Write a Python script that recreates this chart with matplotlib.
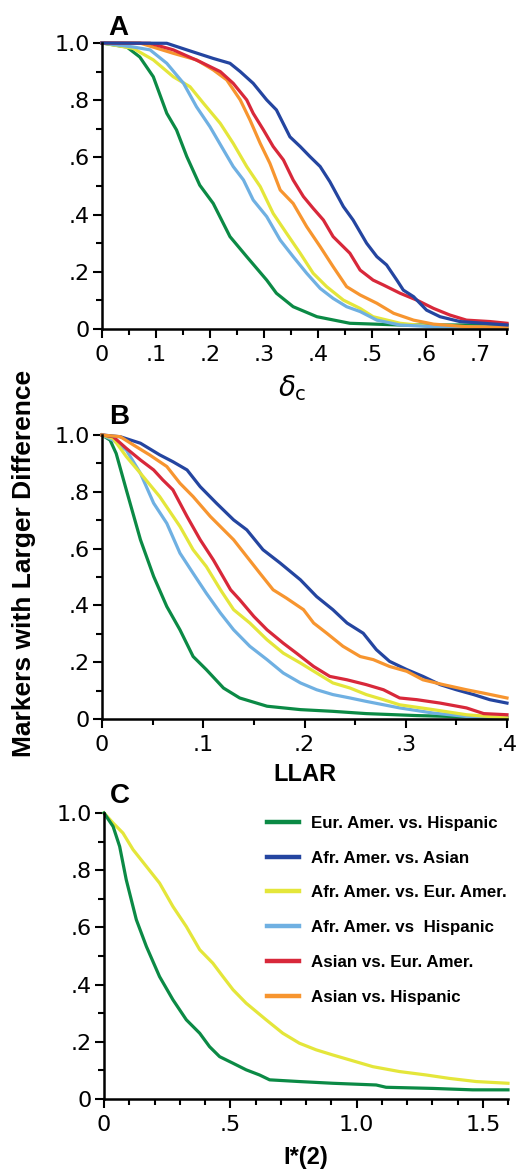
import numpy as np
import matplotlib
matplotlib.use("Agg")
import matplotlib.pyplot as plt
from matplotlib.lines import Line2D

# ---- données ----
series_labels = ["Eur. Amer. vs. Hispanic", "Afr. Amer. vs. Asian", "Afr. Amer. vs. Eur. Amer.",
                 "Afr. Amer. vs  Hispanic", "Asian vs. Eur. Amer.", "Asian vs. Hispanic"]
series_colors = ["#0b8a45", "#2445a0", "#e4e63a", "#6fb0e2", "#d8283a", "#f7952f"]

# panneau A (delta_c)
a_green_x = [0, 0.046, 0.070, 0.095, 0.120, 0.138, 0.157, 0.181, 0.206, 0.237, 0.268, 0.305, 0.323, 0.354, 0.398, 0.459, 0.552, 0.75]
a_green_y = [1.0, 0.986, 0.951, 0.882, 0.754, 0.696, 0.603, 0.503, 0.439, 0.323, 0.253, 0.171, 0.125, 0.078, 0.043, 0.020, 0.014, 0.014]
a_blue_x = [0, 0.12, 0.157, 0.206, 0.237, 0.256, 0.280, 0.305, 0.323, 0.348, 0.367, 0.385, 0.404, 0.422, 0.447, 0.465, 0.490,
            0.509, 0.527, 0.546, 0.558, 0.577, 0.601, 0.626, 0.663, 0.706, 0.75]
a_blue_y = [1.0, 0.999, 0.976, 0.946, 0.929, 0.900, 0.859, 0.801, 0.766, 0.672, 0.638, 0.603, 0.568, 0.515, 0.428, 0.381, 0.300,
            0.253, 0.224, 0.171, 0.136, 0.113, 0.066, 0.043, 0.026, 0.020, 0.014]
a_yellow_x = [0, 0.058, 0.095, 0.132, 0.163, 0.188, 0.219, 0.243, 0.268, 0.293, 0.317, 0.342, 0.367, 0.391, 0.416, 0.447, 0.478,
              0.502, 0.552, 0.614, 0.75]
a_yellow_y = [1.0, 0.981, 0.941, 0.882, 0.847, 0.789, 0.719, 0.649, 0.568, 0.498, 0.404, 0.334, 0.265, 0.195, 0.148, 0.101, 0.072,
              0.043, 0.020, 0.008, 0.005]
a_ltblue_x = [0, 0.058, 0.089, 0.120, 0.151, 0.175, 0.200, 0.225, 0.243, 0.262, 0.280, 0.305, 0.330, 0.354, 0.379, 0.404, 0.428,
              0.453, 0.478, 0.509, 0.552, 0.614, 0.75]
a_ltblue_y = [1.0, 0.986, 0.976, 0.929, 0.859, 0.777, 0.707, 0.626, 0.568, 0.521, 0.451, 0.393, 0.311, 0.253, 0.195, 0.142, 0.107,
              0.078, 0.061, 0.031, 0.014, 0.008, 0.005]
a_red_x = [0, 0.089, 0.132, 0.181, 0.219, 0.243, 0.268, 0.280, 0.299, 0.317, 0.336, 0.354, 0.373, 0.391, 0.410, 0.428, 0.459,
           0.478, 0.502, 0.521, 0.552, 0.583, 0.614, 0.644, 0.675, 0.719, 0.75]
a_red_y = [1.0, 0.999, 0.976, 0.935, 0.900, 0.859, 0.801, 0.754, 0.696, 0.638, 0.591, 0.521, 0.463, 0.422, 0.381, 0.323, 0.265,
           0.206, 0.171, 0.154, 0.125, 0.101, 0.072, 0.049, 0.031, 0.026, 0.020]
a_orange_x = [0, 0.07, 0.132, 0.175, 0.206, 0.231, 0.256, 0.274, 0.293, 0.311, 0.330, 0.354, 0.379, 0.404, 0.428, 0.453, 0.478,
              0.509, 0.540, 0.577, 0.614, 0.675, 0.75]
a_orange_y = [1.0, 1.0, 0.964, 0.941, 0.906, 0.871, 0.801, 0.731, 0.649, 0.579, 0.486, 0.439, 0.358, 0.288, 0.218, 0.148, 0.119,
              0.090, 0.055, 0.031, 0.017, 0.008, 0.006]

# panneau B (LLAR)
b_green_x = [0, 0.008, 0.014, 0.024, 0.038, 0.051, 0.064, 0.077, 0.090, 0.103, 0.120, 0.136, 0.163, 0.196, 0.228, 0.261, 0.311, 0.4]
b_green_y = [1.0, 0.982, 0.935, 0.807, 0.631, 0.502, 0.396, 0.314, 0.220, 0.174, 0.109, 0.074, 0.045, 0.033, 0.027, 0.019, 0.012, 0.004]
b_blue_x = [0, 0.018, 0.038, 0.057, 0.070, 0.084, 0.097, 0.113, 0.130, 0.143, 0.159, 0.176, 0.196, 0.212, 0.228, 0.242, 0.258,
            0.271, 0.284, 0.301, 0.317, 0.334, 0.350, 0.367, 0.383, 0.4]
b_blue_y = [1.0, 0.994, 0.971, 0.930, 0.906, 0.877, 0.818, 0.760, 0.701, 0.666, 0.596, 0.549, 0.490, 0.431, 0.385, 0.338, 0.302,
            0.244, 0.203, 0.174, 0.150, 0.121, 0.103, 0.086, 0.068, 0.056]
b_yellow_x = [0, 0.011, 0.024, 0.038, 0.057, 0.077, 0.090, 0.103, 0.117, 0.130, 0.146, 0.163, 0.179, 0.196, 0.212, 0.228, 0.245,
              0.261, 0.278, 0.294, 0.327, 0.360, 0.4]
b_yellow_y = [1.0, 0.988, 0.924, 0.865, 0.783, 0.678, 0.596, 0.537, 0.455, 0.385, 0.338, 0.279, 0.232, 0.197, 0.162, 0.127, 0.109,
              0.086, 0.068, 0.050, 0.033, 0.015, 0.004]
b_ltblue_x = [0, 0.011, 0.024, 0.038, 0.051, 0.064, 0.077, 0.090, 0.103, 0.117, 0.130, 0.146, 0.163, 0.179, 0.196, 0.212, 0.228,
              0.245, 0.261, 0.294, 0.327, 0.360, 0.4]
b_ltblue_y = [1.0, 0.982, 0.947, 0.865, 0.760, 0.689, 0.584, 0.513, 0.443, 0.373, 0.314, 0.256, 0.209, 0.162, 0.127, 0.103, 0.086,
              0.074, 0.062, 0.039, 0.021, 0.009, 0.004]
b_red_x = [0, 0.011, 0.024, 0.038, 0.051, 0.060, 0.070, 0.084, 0.097, 0.110, 0.127, 0.136, 0.150, 0.163, 0.179, 0.192, 0.209,
           0.225, 0.242, 0.261, 0.278, 0.294, 0.311, 0.334, 0.360, 0.377, 0.4]
b_red_y = [1.0, 0.994, 0.953, 0.912, 0.877, 0.842, 0.807, 0.713, 0.631, 0.560, 0.455, 0.420, 0.361, 0.314, 0.267, 0.232, 0.185,
           0.150, 0.138, 0.121, 0.103, 0.074, 0.068, 0.056, 0.039, 0.019, 0.015]
b_orange_x = [0, 0.018, 0.031, 0.047, 0.064, 0.077, 0.090, 0.107, 0.130, 0.143, 0.156, 0.169, 0.182, 0.199, 0.209, 0.222, 0.238,
              0.255, 0.268, 0.284, 0.301, 0.317, 0.337, 0.360, 0.377, 0.4]
b_orange_y = [1.0, 0.994, 0.965, 0.930, 0.889, 0.830, 0.783, 0.713, 0.631, 0.572, 0.513, 0.455, 0.426, 0.385, 0.338, 0.302, 0.256,
              0.220, 0.209, 0.185, 0.168, 0.138, 0.121, 0.103, 0.091, 0.074]

# panneau C (I*(2))
c_green_x = [0, 0.036, 0.062, 0.088, 0.128, 0.168, 0.220, 0.273, 0.326, 0.379, 0.418, 0.458, 0.511, 0.563, 0.616, 0.656, 0.774,
             0.906, 1.078, 1.117, 1.302, 1.460, 1.6]
c_green_y = [1.0, 0.953, 0.883, 0.767, 0.627, 0.533, 0.428, 0.347, 0.277, 0.230, 0.183, 0.148, 0.125, 0.102, 0.084, 0.067, 0.061,
             0.055, 0.049, 0.041, 0.037, 0.032, 0.032]
c_yellow_x = [0, 0.036, 0.075, 0.115, 0.168, 0.220, 0.273, 0.326, 0.379, 0.431, 0.471, 0.511, 0.563, 0.642, 0.708, 0.774, 0.840,
              0.906, 0.972, 1.065, 1.170, 1.276, 1.368, 1.474, 1.6]
c_yellow_y = [1.0, 0.965, 0.930, 0.872, 0.813, 0.755, 0.673, 0.603, 0.522, 0.475, 0.428, 0.382, 0.335, 0.277, 0.230, 0.195, 0.172,
              0.154, 0.137, 0.113, 0.096, 0.084, 0.072, 0.061, 0.055]

y_ticks = [0, 0.2, 0.4, 0.6, 0.8, 1.0]
y_tick_labels = ["0", ".2", ".4", ".6", ".8", "1.0"]
a_xticks = [0, 0.1, 0.2, 0.3, 0.4, 0.5, 0.6, 0.7]
a_xtick_labels = ["0", ".1", ".2", ".3", ".4", ".5", ".6", ".7"]
b_xticks = [0, 0.1, 0.2, 0.3, 0.4]
b_xtick_labels = ["0", ".1", ".2", ".3", ".4"]
c_xticks = [0, 0.5, 1.0, 1.5]
c_xtick_labels = ["0", ".5", "1.0", "1.5"]

W, H = 525, 1169
fig = plt.figure(figsize=(W / 100, H / 100), dpi=100)


def axes_px(left, top, right, bottom):
    # position en pixels -> fraction de figure
    return fig.add_axes([left / W, 1 - bottom / H, (right - left) / W, (bottom - top) / H])


def style_axes(ax, xmax, xticks, xlabels, xminor):
    ax.set_xlim(0, xmax)
    ax.set_ylim(0, 1.0)
    for s in ["top", "right"]:
        ax.spines[s].set_visible(False)
    for s in ["left", "bottom"]:
        ax.spines[s].set_linewidth(1.8)
    ax.set_xticks(xticks)
    ax.set_xticklabels(xlabels)
    ax.set_xticks(np.arange(0, xmax + 1e-9, xminor), minor=True)
    ax.set_yticks(y_ticks)
    ax.set_yticklabels(y_tick_labels)
    ax.set_yticks(np.arange(0, 1.0001, 0.1), minor=True)
    ax.tick_params(which="major", direction="out", length=6.5, width=1.5, color="black")
    ax.tick_params(which="minor", direction="out", length=4, width=1.5, color="black")
    ax.tick_params(axis="x", labelsize=16, pad=5)
    ax.tick_params(axis="y", labelsize=16, pad=2)
    for lab in ax.get_xticklabels() + ax.get_yticklabels():
        lab.set_family("DejaVu Sans")


lw = 2.3

axA = axes_px(102, 43, 507, 329)
for xs, ys, c in [(a_green_x, a_green_y, series_colors[0]), (a_yellow_x, a_yellow_y, series_colors[2]),
                  (a_ltblue_x, a_ltblue_y, series_colors[3]), (a_orange_x, a_orange_y, series_colors[5]),
                  (a_red_x, a_red_y, series_colors[4]), (a_blue_x, a_blue_y, series_colors[1])]:
    axA.plot(xs, ys, color=c, lw=lw, clip_on=False, solid_joinstyle="round")
style_axes(axA, 0.75, a_xticks, a_xtick_labels, 0.05)
axA.set_xlabel(r"$\delta_{\mathrm{c}}$", fontsize=20, va="center")
axA.xaxis.set_label_coords(0.47, -0.205)

axB = axes_px(102, 435, 507, 719)
for xs, ys, c in [(b_green_x, b_green_y, series_colors[0]), (b_ltblue_x, b_ltblue_y, series_colors[3]),
                  (b_yellow_x, b_yellow_y, series_colors[2]), (b_red_x, b_red_y, series_colors[4]),
                  (b_blue_x, b_blue_y, series_colors[1]), (b_orange_x, b_orange_y, series_colors[5])]:
    axB.plot(xs, ys, color=c, lw=lw, clip_on=False, solid_joinstyle="round")
style_axes(axB, 0.4, b_xticks, b_xtick_labels, 0.05)
axB.set_xlabel("LLAR", fontsize=17, fontweight="bold", family="Liberation Sans", va="center")
axB.xaxis.set_label_coords(0.5, -0.194)

axC = axes_px(104, 813, 508, 1099)
axC.plot(c_yellow_x, c_yellow_y, color=series_colors[2], lw=lw, clip_on=False, solid_joinstyle="round")
axC.plot(c_green_x, c_green_y, color=series_colors[0], lw=lw, clip_on=False, solid_joinstyle="round")
style_axes(axC, 1.6, c_xticks, c_xtick_labels, 0.1)
axC.set_xlabel("I*(2)", fontsize=17, fontweight="bold", family="Liberation Sans", va="center")
axC.xaxis.set_label_coords(0.5, -0.203)

handles = [Line2D([], [], color=c, lw=3.2) for c in series_colors]
axC.legend(handles, series_labels, loc="upper left", bbox_to_anchor=(0.383, 1.02), frameon=False,
           handlelength=1.85, handletextpad=0.75, labelspacing=1.17, borderpad=0,
           prop={"family": "Liberation Sans", "weight": "bold", "size": 12.2})

# lettres des panneaux
for letter, x, y in [("A", 118, 28), ("B", 119, 417), ("C", 120, 796)]:
    fig.text(x / W, 1 - y / H, letter, fontsize=20, fontweight="bold", family="Liberation Sans",
             ha="center", va="center")

fig.text(24 / W, 1 - 563 / H, "Markers with Larger Difference", rotation=90, fontsize=19,
         fontweight="bold", family="Liberation Sans", ha="center", va="center")

fig.savefig("out.png", dpi=100)
